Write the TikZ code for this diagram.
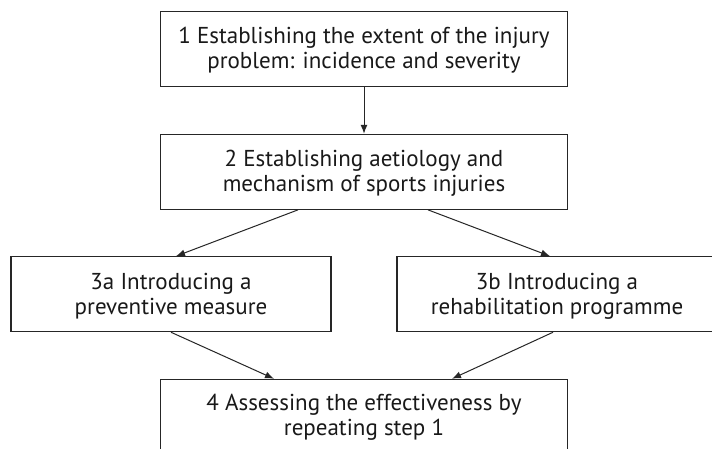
\documentclass[tikz,border=0pt]{standalone}
\usepackage{fontspec}
\setmainfont{PT Sans}
\usetikzlibrary{arrows.meta}
\tikzset{
  box/.style={draw=black!85, line width=1.1pt, rectangle, inner sep=0pt},
  lbl/.style={anchor=base, inner sep=0pt, font=\fontsize{23}{26}\selectfont, text=black!90},
  arr/.style={draw=black!85, line width=1pt, -{Latex[length=9pt,width=7pt]}}
}
\begin{document}
\begin{tikzpicture}[x=1pt,y=-1pt]
\useasboundingbox (0,0) rectangle (712,448);
\clip (0,0) rectangle (712,448);
\fill[white] (0,0) rectangle (712,448);
\node[box, minimum width=407.5pt, minimum height=75.4pt] (b1) at (364,49) {};
\node[box, minimum width=407.5pt, minimum height=75pt] (b2) at (364,171.8) {};
\node[box, minimum width=320pt, minimum height=75pt] (b3a) at (171,294.2) {};
\node[box, minimum width=320pt, minimum height=75pt] (b3b) at (557,294.2) {};
\node[box, minimum width=407.5pt, minimum height=75pt] (b4) at (364,416.8) {};
\node[lbl] (t1a) at ([yshift=-33pt]b1.north) {1 Establishing the extent of the injury};
\node[lbl] (t1b) at ([yshift=-58pt]b1.north) {problem: incidence and severity};
\node[lbl] (t2a) at ([yshift=-33pt]b2.north) {2 Establishing aetiology and};
\node[lbl] (t2b) at ([yshift=-58pt]b2.north) {mechanism of sports injuries};
\node[lbl] (t3aa) at ([yshift=-33pt]b3a.north) {3a Introducing a};
\node[lbl] (t3ab) at ([yshift=-58pt]b3a.north) {preventive measure};
\node[lbl] (t3ba) at ([yshift=-33pt]b3b.north) {3b Introducing a};
\node[lbl] (t3bb) at ([yshift=-58pt]b3b.north) {rehabilitation programme};
\node[lbl] (t4a) at ([yshift=-32pt]b4.north) {4 Assessing the effectiveness by};
\node[lbl] (t4b) at ([yshift=-57pt]b4.north) {repeating step 1};
\draw[arr] (b1.south) -- (b2.north);
\draw[arr] ([xshift=-66pt]b2.south) -- ([xshift=5pt]b3a.north);
\draw[arr] ([xshift=64pt]b2.south) -- ([xshift=-7pt]b3b.north);
\draw[arr] (b3a.south) -- ([xshift=-90pt]b4.north);
\draw[arr] ([xshift=-4pt]b3b.south) -- ([xshift=88pt]b4.north);
\end{tikzpicture}
\end{document}
